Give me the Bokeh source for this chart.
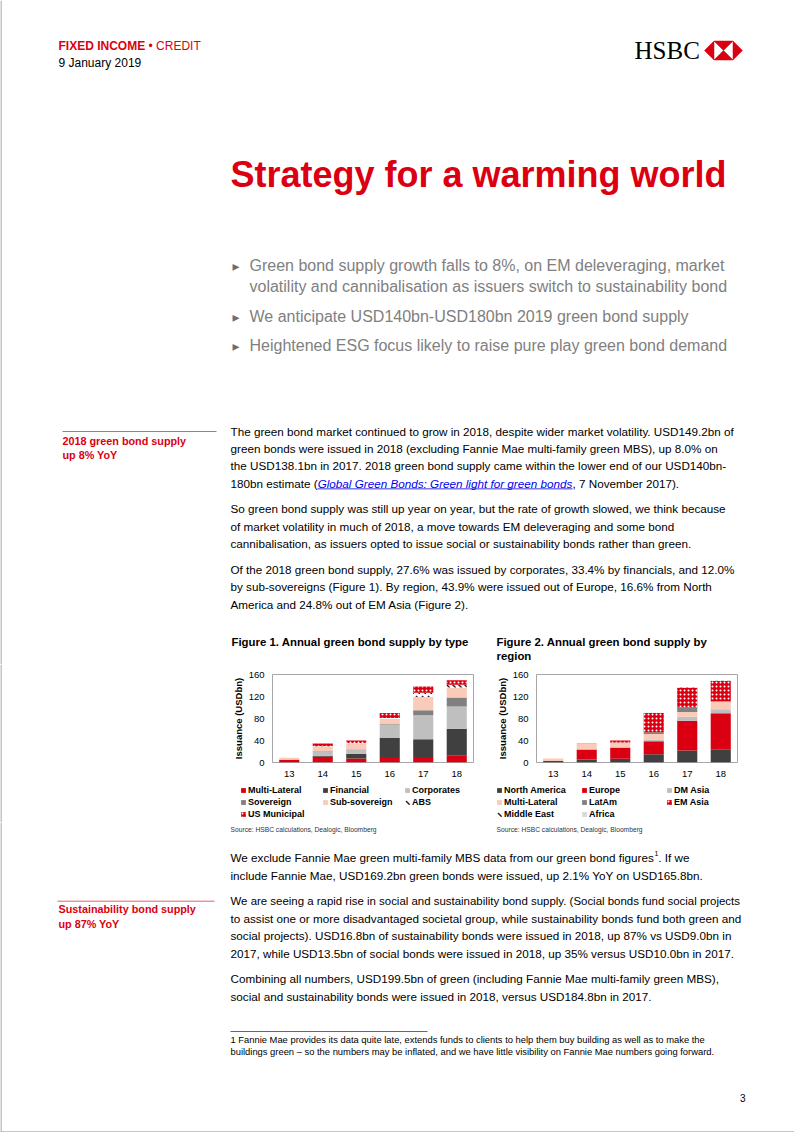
from bokeh.plotting import figure
from bokeh.models import Range1d, FactorRange, FixedTicker, Legend, LegendItem, ColumnDataSource
from bokeh.layouts import column, row
from bokeh.core.properties import value
from bokeh.transform import stack
from bokeh.embed import file_html
from bokeh.resources import INLINE

# ---------------- data ----------------
years = ["13", "14", "15", "16", "17", "18"]
y_ticks = [0, 40, 80, 120, 160]

type_names = ["Multi-Lateral", "Financial", "Corporates", "Sovereign", "Sub-sovereign", "ABS", "US Municipal"]
t_multi_lateral = [4.5, 10.5, 7.5, 10.0, 10.0, 12.5]
t_financial = [0.5, 2.0, 8.5, 34.5, 32.5, 49.0]
t_corporates = [0.5, 8.0, 7.5, 23.5, 43.5, 40.5]
t_sovereign = [0.0, 0.5, 0.5, 1.5, 9.0, 16.0]
t_sub_sovereign = [3.0, 8.5, 11.0, 9.5, 24.0, 18.5]
t_abs = [0.0, 0.5, 0.5, 2.0, 8.0, 5.0]
t_us_municipal = [0.0, 4.5, 4.5, 9.0, 11.0, 8.0]

region_names = ["North America", "Europe", "DM Asia", "Multi-Lateral", "LatAm", "EM Asia", "Middle East", "Africa"]
r_north_america = [1.0, 5.5, 7.0, 15.0, 22.0, 23.0]
r_europe = [2.0, 18.0, 20.0, 23.5, 54.0, 66.5]
r_dm_asia = [0.0, 0.0, 1.0, 3.5, 7.0, 7.5]
r_multi_lateral = [4.5, 10.5, 8.0, 10.0, 9.0, 13.5]
r_latam = [0.0, 0.0, 0.5, 3.0, 8.0, 1.0]
r_em_asia = [0.0, 0.5, 3.5, 35.0, 36.0, 36.5]
r_middle_east = [0.0, 0.0, 0.0, 0.0, 1.0, 0.5]
r_africa = [0.0, 0.0, 0.0, 0.3, 0.5, 0.5]

# ---------------- texts ----------------
header_bold = "FIXED INCOME"
header_reg = "\u2022 CREDIT"
header_date = "9 January 2019"
main_title = "Strategy for a warming world"
bullets = [
    ["Green bond supply growth falls to 8%, on EM deleveraging, market",
     "volatility and cannibalisation as issuers switch to sustainability bond"],
    ["We anticipate USD140bn-USD180bn 2019 green bond supply"],
    ["Heightened ESG focus likely to raise pure play green bond demand"],
]
side1 = ["2018 green bond supply", "up 8% YoY"]
side2 = ["Sustainability bond supply", "up 87% YoY"]
para1 = ["The green bond market continued to grow in 2018, despite wider market volatility. USD149.2bn of",
         "green bonds were issued in 2018 (excluding Fannie Mae multi-family green MBS), up 8.0% on",
         "the USD138.1bn in 2017. 2018 green bond supply came within the lower end of our USD140bn-"]
para1_last = ["180bn estimate (", "Global Green Bonds: Green light for green bonds", ", 7 November 2017)."]
para2 = ["So green bond supply was still up year on year, but the rate of growth slowed, we think because",
         "of market volatility in much of 2018, a move towards EM deleveraging and some bond",
         "cannibalisation, as issuers opted to issue social or sustainability bonds rather than green."]
para3 = ["Of the 2018 green bond supply, 27.6% was issued by corporates, 33.4% by financials, and 12.0%",
         "by sub-sovereigns (Figure 1). By region, 43.9% were issued out of Europe, 16.6% from North",
         "America and 24.8% out of EM Asia (Figure 2)."]
fig1_title = ["Figure 1. Annual green bond supply by type"]
fig2_title = ["Figure 2. Annual green bond supply by", "region"]
source_text = "Source: HSBC calculations, Dealogic, Bloomberg"
para4_first = ["We exclude Fannie Mae green multi-family MBS data from our green bond figures", "1", ". If we"]
para4 = ["include Fannie Mae, USD169.2bn green bonds were issued, up 2.1% YoY on USD165.8bn."]
para5 = ["We are seeing a rapid rise in social and sustainability bond supply. (Social bonds fund social projects",
         "to assist one or more disadvantaged societal group, while sustainability bonds fund both green and",
         "social projects). USD16.8bn of sustainability bonds were issued in 2018, up 87% vs USD9.0bn in",
         "2017, while USD13.5bn of social bonds were issued in 2018, up 35% versus USD10.0bn in 2017."]
para6 = ["Combining all numbers, USD199.5bn of green (including Fannie Mae multi-family green MBS),",
         "social and sustainability bonds were issued in 2018, versus USD184.8bn in 2017."]
footnote = ["1 Fannie Mae provides its data quite late, extends funds to clients to help them buy building as well as to make the",
            "buildings green \u2013 so the numbers may be inflated, and we have little visibility on Fannie Mae numbers going forward."]
page_no = "3"

# ---------------- style ----------------
FONT = "Liberation Sans"
RED = "#db0011"
BODY = 11.7
EDGE = "#8c8c8c"

REG_L = [556,556,500,556,556,278,556,556,222,222,500,222,833,556,556,556,556,333,500,278,556,500,722,500,500,500]
REG_U = [667,667,722,722,667,611,778,722,278,500,667,556,833,722,778,667,778,722,667,611,722,667,944,667,667,611]
BLD_L = [556,611,556,611,556,333,611,611,278,278,556,278,889,611,611,611,611,389,556,333,611,556,778,556,556,500]
BLD_U = [722,722,722,722,667,611,778,722,278,556,722,611,833,722,778,667,778,722,667,611,722,667,944,667,667,611]
PUNCT = {" ": 278, ".": 278, ",": 278, ":": 278, ";": 278, "(": 333, ")": 333, "-": 333, "%": 889, "\u2022": 350}


def tw(s, size, bold=False):
    tot = 0
    for ch in s:
        if "a" <= ch <= "z":
            tot += (BLD_L if bold else REG_L)[ord(ch) - 97]
        elif "A" <= ch <= "Z":
            tot += (BLD_U if bold else REG_U)[ord(ch) - 65]
        elif ch.isdigit():
            tot += 556
        else:
            tot += PUNCT.get(ch, 556)
    return tot * size / 1000.0


def canvas(x0, x1, y0, y1):
    p = figure(width=int(round(x1 - x0)), height=int(round(y1 - y0)),
               x_range=Range1d(x0, x1), y_range=Range1d(y1, y0),
               x_axis_type=None, y_axis_type=None, output_backend="svg",
               toolbar_location=None, min_border=0, outline_line_color=None)
    p.segment(x0=[0.5], y0=[y0], x1=[0.5], y1=[y1], line_color=EDGE, line_width=1)
    return p


def txt(p, x, y, s, size, color="#000000", style="normal", font=FONT, align="left"):
    p.text(x=[x], y=[y], text=[s], text_font=value(font), text_font_size=value(f"{size}px"),
           text_font_style=style, text_color=color, text_baseline="middle", text_align=align)


# ---------------- top canvas (page y 0..664) ----------------
top = canvas(0, 794, 0, 664)
txt(top, 58, 45, header_bold, 12, RED, "bold")
txt(top, 58 + tw(header_bold + " ", 12, True), 45, header_reg, 12, RED)
txt(top, 58, 62, header_date, 12)
txt(top, 634, 50, "HSBC", 25, "#000000", font="Liberation Serif")
# HSBC hexagon logo
lx0, lx1, ly0, ly1, lc = 713.5, 732.5, 40.5, 59.5, 50
top.patches(xs=[[lx0, lx1, 723], [lx0, lx1, 723], [lx0, lx0, 704], [lx1, lx1, 742]],
            ys=[[ly0, ly0, lc], [ly1, ly1, lc], [ly0, ly1, lc], [ly0, ly1, lc]],
            fill_color=RED, line_color=RED, line_width=0.5)
txt(top, 230, 174, main_title, 36, RED, "bold")

by = [[265, 286], [316], [345]]
for lines, ys in zip(bullets, by):
    txt(top, 232, ys[0], "\u25b8", 14, "#6e6e6e", font="DejaVu Sans")
    for s, yy in zip(lines, ys):
        txt(top, 249, yy, s, 16, "#808080")

top.segment(x0=[62], y0=[431], x1=[216], y1=[431], line_color="#e2606a", line_width=1)
txt(top, 62, 440, side1[0], 10.8, RED, "bold")
txt(top, 62, 454.5, side1[1], 10.8, RED, "bold")

LS = 17.35
y = 430.7
for s in para1:
    txt(top, 230, y, s, BODY)
    y += LS
x = 230
txt(top, x, y, para1_last[0], BODY)
x += tw(para1_last[0], BODY)
txt(top, x, y, para1_last[1], BODY, "#0000ee", "italic")
wl = tw(para1_last[1], BODY)
top.segment(x0=[x], y0=[y + 5.6], x1=[x + wl], y1=[y + 5.6], line_color="#0000ee", line_width=0.8)
x += wl
txt(top, x, y, para1_last[2], BODY)
y = 508.3
for s in para2:
    txt(top, 230, y, s, BODY)
    y += LS
y = 569.0
for s in para3:
    txt(top, 230, y, s, BODY)
    y += LS

txt(top, 231, 641, fig1_title[0], 11.4, "#000000", "bold")
txt(top, 496, 641, fig2_title[0], 11.4, "#000000", "bold")
txt(top, 496, 655, fig2_title[1], 11.4, "#000000", "bold")

left_mid = canvas(0, 228, 664, 822)

# ---------------- charts ----------------
DOTS = dict(hatch_pattern="dot", hatch_color="white", hatch_scale=4, hatch_weight=1)
DASH = dict(hatch_pattern="left_diagonal_dash", hatch_color="#222222", hatch_scale=6, hatch_weight=1.5)
type_styles = [dict(fill_color=RED), dict(fill_color="#404040"), dict(fill_color="#bfbfbf"),
               dict(fill_color="#808080"), dict(fill_color="#f9cbb8"),
               dict(fill_color="white", **DASH), dict(fill_color=RED, **DOTS)]
region_styles = [dict(fill_color="#404040"), dict(fill_color=RED), dict(fill_color="#bfbfbf"),
                 dict(fill_color="#f9cbb8"), dict(fill_color="#808080"), dict(fill_color=RED, **DOTS),
                 dict(fill_color="white", **DASH), dict(fill_color="#d9d9d9")]


def chart(width, bl, br, series, styles):
    c = figure(width=width, height=118, x_range=FactorRange(factors=years), y_range=Range1d(0, 160),
               output_backend="svg", toolbar_location=None,
               min_border_left=bl, min_border_right=br, min_border_top=10, min_border_bottom=20,
               outline_line_color="#a6a6a6", outline_line_width=1)
    data = {"year": years}
    for i, v in enumerate(series):
        data[f"s{i}"] = v
    src = ColumnDataSource(data)
    for i, st in enumerate(styles):
        topf = stack(*[f"s{j}" for j in range(i + 1)])
        if i == 0:
            c.vbar(x="year", top=topf, bottom=0, width=0.6, source=src, line_color=None, **st)
        else:
            c.vbar(x="year", top=topf, bottom=stack(*[f"s{j}" for j in range(i)]), width=0.6,
                   source=src, line_color=None, **st)
    c.xgrid.grid_line_color = None
    c.ygrid.grid_line_color = None
    for ax in (c.xaxis[0], c.yaxis[0]):
        ax.axis_line_color = None
        ax.major_tick_line_color = None
        ax.minor_tick_line_color = None
        ax.major_tick_out = 0
        ax.major_tick_in = 0
        ax.minor_tick_out = 0
        ax.minor_tick_in = 0
        ax.major_label_text_font = FONT
        ax.major_label_text_font_size = "9.5px"
        ax.major_label_text_color = "#000000"
        ax.major_label_standoff = 8
    c.yaxis.ticker = FixedTicker(ticks=y_ticks)
    c.yaxis.axis_label = "Issuance (USDbn)"
    c.yaxis.axis_label_text_font = FONT
    c.yaxis.axis_label_text_font_style = "bold"
    c.yaxis.axis_label_text_font_size = "9.5px"
    c.yaxis.axis_label_text_color = "#000000"
    c.yaxis.axis_label_standoff = 2
    return c


def legend_fig(width, left, names, styles, label_width):
    lf = figure(width=width, height=40, x_range=Range1d(0, 1), y_range=Range1d(0, 1),
                x_axis_type=None, y_axis_type=None, output_backend="svg", toolbar_location=None,
                min_border=0, min_border_left=left, min_border_top=2, outline_line_color=None)
    # key swatches only: a single bar placed outside the visible range
    offscreen = ColumnDataSource(dict(x=[5.0], top=[6.0]))
    items = []
    for name, st in zip(names, styles):
        r = lf.vbar(x="x", top="top", width=0.5, source=offscreen, line_color=None, **st)
        items.append(LegendItem(label=name, renderers=[r]))
    leg = Legend(items=items, location="top_left", orientation="horizontal", ncols=3,
                 glyph_width=6, glyph_height=6, label_standoff=2, label_width=label_width,
                 label_height=11, spacing=1, padding=0, margin=0,
                 border_line_color=None, background_fill_alpha=0,
                 label_text_font=FONT, label_text_font_size="9px", label_text_font_style="bold",
                 label_text_color="#000000", label_text_baseline="middle")
    lf.add_layout(leg)
    return lf


c1 = chart(262, 44, 17,
           [t_multi_lateral, t_financial, t_corporates, t_sovereign, t_sub_sovereign, t_abs, t_us_municipal],
           type_styles)
c2 = chart(304, 46, 57,
           [r_north_america, r_europe, r_dm_asia, r_multi_lateral, r_latam, r_em_asia, r_middle_east, r_africa],
           region_styles)
l1 = legend_fig(262, 12, type_names, type_styles, 73)
l2 = legend_fig(304, 6, region_names, region_styles, 76)

# ---------------- bottom canvas (page y 822..1132) ----------------
bot = canvas(0, 794, 822, 1132)
txt(bot, 230, 829, source_text, 6.7, "#333333")
txt(bot, 496, 829, source_text, 6.7, "#333333")

y = 857.3
x = 230
txt(bot, x, y, para4_first[0], BODY)
x += tw(para4_first[0], BODY)
txt(bot, x, y - 4, para4_first[1], 7)
x += tw(para4_first[1], 7)
txt(bot, x, y, para4_first[2], BODY)
y += LS
for s in para4:
    txt(bot, 230, y, s, BODY)
    y += LS
y = 900.7
for k, s in enumerate(para5):
    txt(bot, 230, y, s, 11.45 if k == 0 else BODY)
    y += LS
y = 978.3
for s in para6:
    txt(bot, 230, y, s, BODY)
    y += LS

bot.segment(x0=[57], y0=[900.7], x1=[214], y1=[900.7], line_color="#e2606a", line_width=1)
txt(bot, 58, 908.5, side2[0], 10.8, RED, "bold")
txt(bot, 58, 923, side2[1], 10.8, RED, "bold")

bot.segment(x0=[230], y0=[1031], x1=[427], y1=[1031], line_color="#000000", line_width=0.6)
txt(bot, 230, 1039, footnote[0], 9.4)
txt(bot, 230, 1051, footnote[1], 9.4)
txt(bot, 745, 1097, page_no, 10, align="right")
bot.segment(x0=[0], y0=[1131.5], x1=[794], y1=[1131.5], line_color=EDGE, line_width=1)

layout = column(top, row(left_mid, column(row(c1, c2), row(l1, l2))), bot)

with open("out.html", "w", encoding="utf-8") as f:
    f.write(file_html(layout, INLINE))
